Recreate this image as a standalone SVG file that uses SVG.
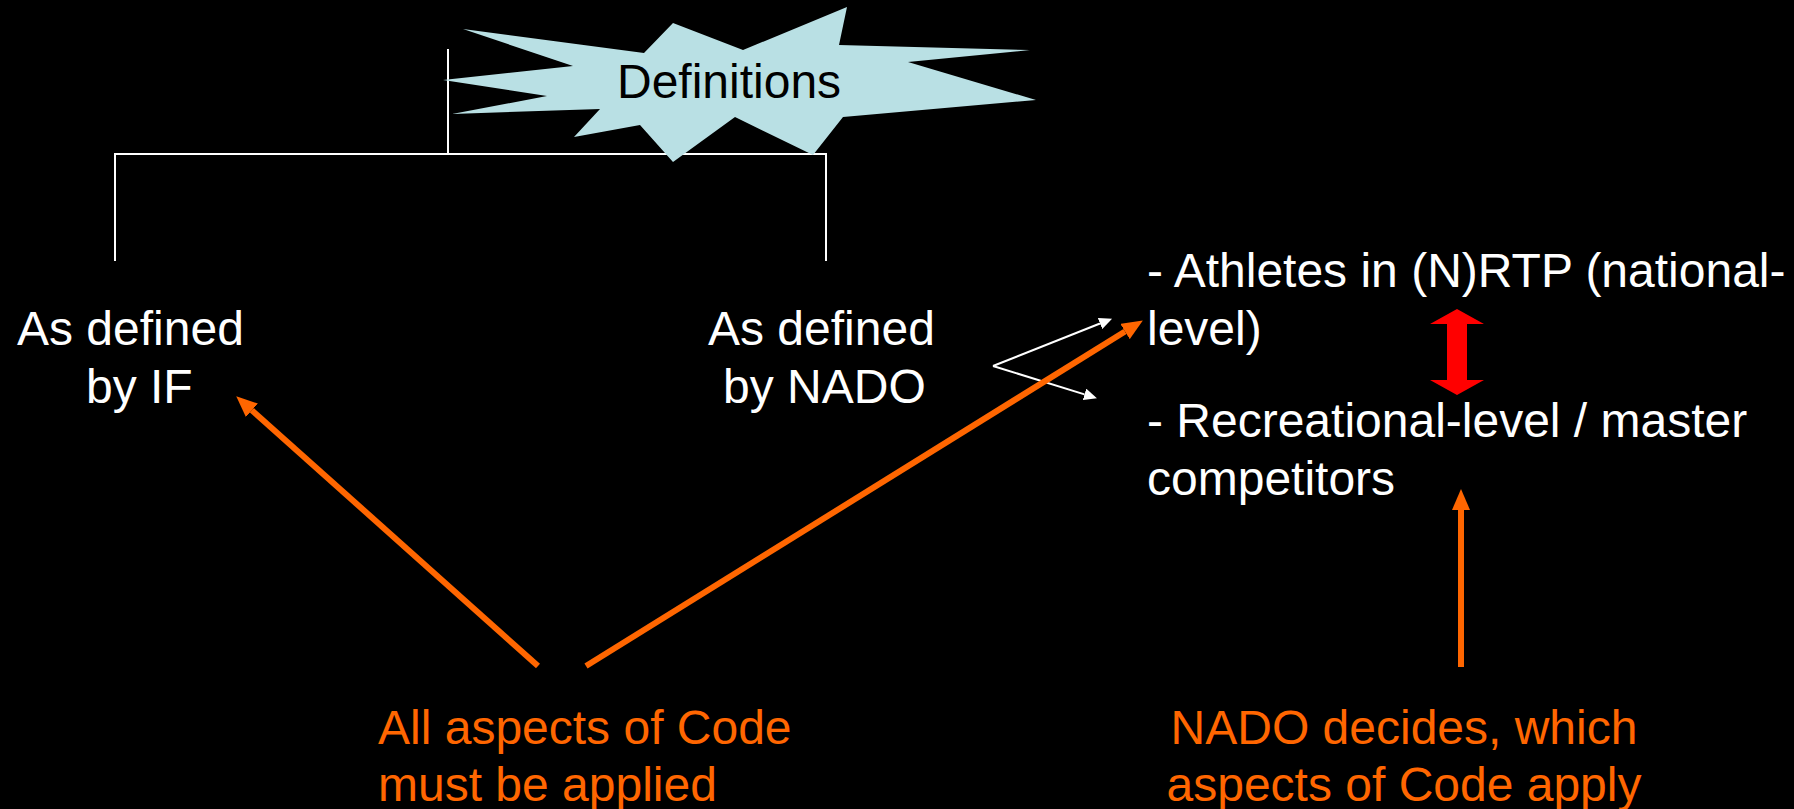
<svg xmlns="http://www.w3.org/2000/svg" width="1794" height="809" viewBox="0 0 1794 809">
<style>
text{font-family:"Liberation Sans",Arial,sans-serif;font-size:48px}
.w{fill:#fff}
.o{fill:#FF6600}
.wl{stroke:#fff;stroke-width:2;fill:none}
.ol{stroke:#FF6600;stroke-width:6;fill:none}
</style>
<defs>
<marker id="ho" markerUnits="userSpaceOnUse" markerWidth="22" markerHeight="18" refX="0" refY="9" orient="auto">
<path d="M0,0 L21,9 L0,18 z" fill="#FF6600"/>
</marker>
<marker id="hw" markerUnits="userSpaceOnUse" markerWidth="14" markerHeight="12" refX="0" refY="6" orient="auto">
<path d="M0,0 L13,6 L0,12 z" fill="#fff"/>
</marker>
</defs>
<rect width="1794" height="809" fill="#000"/>
<g id="bracket">
<path class="wl" d="M448,49 V154 M115,261 V154 H826 V261"/>
</g>
<g id="definitions">
<polygon fill="#B9E0E4" points="463,29 644,53 673,23 743,50 847,7 839,45 1030,50 908,62 1036,100 843,117 813,155 735,117 673,162 640,125 574,137 600,109 452,114 547,96 443,80 573,66"/>
<text x="617" y="98" fill="#000">Definitions</text>
</g>
<g id="if">
<text class="w" x="17" y="345">As defined</text>
<text class="w" x="86" y="403">by IF</text>
</g>
<g id="nado">
<text class="w" x="708" y="345">As defined</text>
<text class="w" x="723" y="403">by NADO</text>
</g>
<g id="levels">
<text class="w" x="1147" y="287">- Athletes in (N)RTP (national-</text>
<text class="w" x="1147" y="345">level)</text>
<text class="w" x="1147" y="437">- Recreational-level / master</text>
<text class="w" x="1147" y="495">competitors</text>
</g>
<g id="all-aspects">
<text class="o" x="378" y="744">All aspects of Code</text>
<text class="o" x="378" y="801">must be applied</text>
</g>
<g id="nado-decides">
<text class="o" x="1404" y="744" text-anchor="middle">NADO decides, which</text>
<text class="o" x="1404" y="801" text-anchor="middle">aspects of Code apply</text>
</g>
<g id="connectors">
<line class="wl" x1="993" y1="366" x2="1100" y2="323.5" marker-end="url(#hw)"/>
<line class="wl" x1="993" y1="366" x2="1084.5" y2="394.4" marker-end="url(#hw)"/>
<line class="ol" x1="538" y1="666" x2="251.9" y2="410.3" marker-end="url(#ho)"/>
<line class="ol" x1="586" y1="666" x2="1125" y2="331.5" marker-end="url(#ho)"/>
<line class="ol" x1="1461" y1="667" x2="1461" y2="510" marker-end="url(#ho)"/>
<polygon fill="#FF0000" points="1457,309 1484,324 1467,324 1467,380 1484,380 1457,395 1430,380 1447,380 1447,324 1430,324"/>
</g>
</svg>
